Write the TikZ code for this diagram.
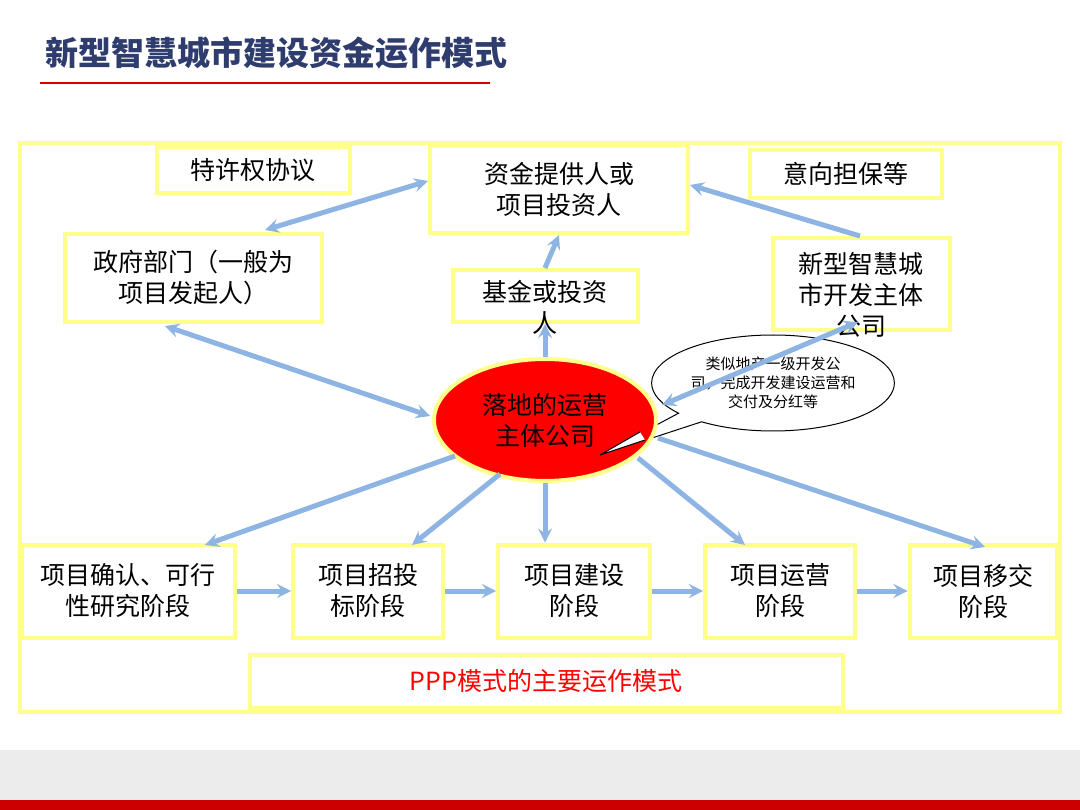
\documentclass[tikz,border=0pt]{standalone}
\usepackage{fontspec}
\setmainfont{Noto Sans CJK SC}
\usetikzlibrary{shapes.callouts,shapes.geometric}
\definecolor{frameY}{HTML}{FFFF8C}
\definecolor{arrowB}{HTML}{8EB4E3}
\definecolor{titleB}{HTML}{2F3C6E}
\begin{document}
\begin{tikzpicture}[x=1pt,y=-1pt]
    \tikzstyle{box}=[draw=frameY,line width=4pt,fill=white,align=center,inner sep=0pt,font=\fontsize{25}{31}\selectfont]
    \tikzstyle{flow}=[draw=arrowB,line width=5pt,-stealth]
    \tikzstyle{both}=[draw=arrowB,line width=5pt,stealth-stealth]

    \useasboundingbox (0,0) rectangle (1080,810);
    \fill[gray!15] (0,750) rectangle (1080,800);
    \fill[red!80!black] (0,800) rectangle (1080,810);
    \node[anchor=west,text=titleB,font=\fontsize{33}{36}\selectfont\bfseries] (title) at (42,53) {新型智慧城市建设资金运作模式};
    \draw[red!80!black,line width=1.5pt] (40,83) -- (490,83);

    \draw[frameY,line width=4pt] (20,143) rectangle (1060,712);

    \node[box,minimum width=193pt,minimum height=46pt] (treaty) at (253,170) {特许权协议};
    \node[box,minimum width=258pt,minimum height=88pt] (investor) at (559,189) {资金提供人或\\项目投资人};
    \node[box,minimum width=192pt,minimum height=48pt] (guarantee) at (846,174) {意向担保等};
    \node[box,minimum width=257pt,minimum height=88pt] (gov) at (193,278) {政府部门（一般为\\项目发起人）};
    \node[box,minimum width=185pt,minimum height=52pt] (fund) at (545,296) {};
    \node[font=\fontsize{25}{31}\selectfont,align=center] (fundtxt) at (545,307) {基金或投资\\人};
    \node[box,minimum width=177pt,minimum height=92pt] (dev) at (861,284) {};
    \node[font=\fontsize{25}{31}\selectfont,align=center] (devtxt) at (861,295) {新型智慧城\\市开发主体\\公司};

    \node[box,minimum width=213pt,minimum height=93pt] (s1) at (128,591) {项目确认、可行\\性研究阶段};
    \node[box,minimum width=150pt,minimum height=93pt] (s2) at (368,591) {项目招投\\标阶段};
    \node[box,minimum width=152pt,minimum height=93pt] (s3) at (574,591) {项目建设\\阶段};
    \node[box,minimum width=150pt,minimum height=93pt] (s4) at (780,591) {项目运营\\阶段};
    \node[box,minimum width=147pt,minimum height=93pt] (s5) at (983,591) {项目移交\\阶段};
    \node[box,minimum width=593pt,minimum height=53pt,text=red] (ppp) at (546,681) {PPP模式的主要运作模式};

    \node[ellipse callout,draw=black,fill=white,line width=1pt,minimum width=232pt,minimum height=96pt,align=center,
        callout absolute pointer={(600,455)},font=\fontsize{15}{19}\selectfont] (note) at (773,383) {类似地产一级开发公\\司，完成开发建设运营和\\交付及分红等};
    \node[ellipse,draw=frameY,line width=4pt,fill=red,minimum width=222pt,minimum height=122pt,align=center,
        font=\fontsize{25}{31}\selectfont] (core) at (545,420) {落地的运营\\主体公司};
    \fill[white] (600,455) -- (640,432) -- (645,440) -- cycle;
    \draw[black,line width=1pt] (600,455) -- (640,432) (600,455) -- (645,440);

    \draw[both] (265,230) -- (428,181);
    \draw[flow] (fund.north) -- (investor.south);
    \draw[flow] (core.north) -- (fund.south);
    \draw[flow] (860,236) -- (690,185);
    \draw[both] (165,326) -- (430,416);
    \draw[both] (662,405) -- (858,322);
    \draw[flow] (455,456) -- (205,545);
    \draw[flow] (500,474) -- (412,545);
    \draw[flow] (core.south) -- (s3.north -| core.south);
    \draw[flow] (638,458) -- (745,545);
    \draw[flow] (658,438) -- (985,547);
    \draw[flow] (s1.east) -- (s2.west);
    \draw[flow] (s2.east) -- (s3.west);
    \draw[flow] (s3.east) -- (s4.west);
    \draw[flow] (s4.east) -- (s5.west);
\end{tikzpicture}
\end{document}
